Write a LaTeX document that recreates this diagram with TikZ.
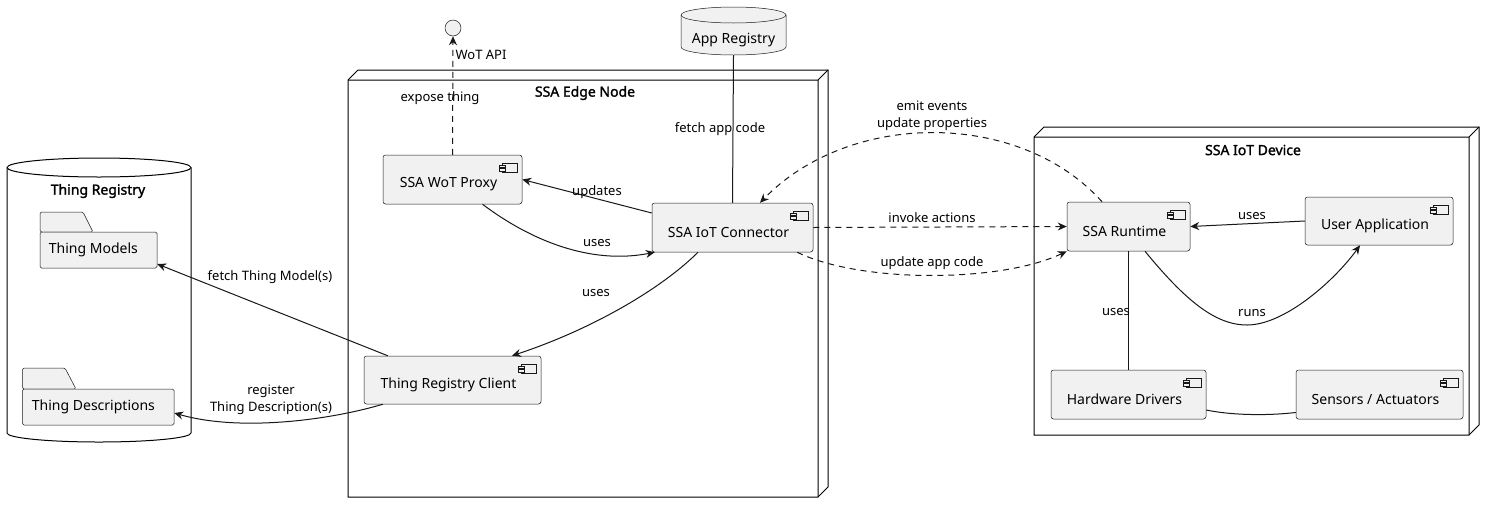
\documentclass[tikz,border=0pt]{standalone}
\usepackage{fontspec}
\setmainfont{Noto Sans}[AutoFakeBold=1.6]
\usetikzlibrary{arrows.meta,calc}
\definecolor{linec}{HTML}{181818}
\definecolor{compfill}{HTML}{F1F1F1}
\begin{document}
\begin{tikzpicture}[x=1pt,y=-1pt,
  wire/.style={draw=linec, line width=1pt},
  arr/.style={-{Stealth[length=9pt,width=8pt,inset=3pt]}},
  dsh/.style={dash pattern=on 6pt off 5pt},
  lbl/.style={font=\fontsize{13}{17}\selectfont, inner sep=0pt, align=center},
  ttl/.style={font=\fontsize{14}{17}\selectfont\bfseries, inner sep=0pt},
  cname/.style={font=\fontsize{14}{17}\selectfont, xshift=-4pt, yshift=-5pt, inner sep=0pt},
  fname/.style={font=\fontsize{14}{17}\selectfont, anchor=west, inner sep=0pt},
  comp/.style={draw=linec, line width=0.5pt, fill=compfill, rounded corners=2.5pt, inner sep=0pt,
    path picture={
      \begin{scope}[sharp corners, line width=0.5pt]
      \draw[draw=linec, fill=compfill] ([xshift=-20pt,yshift=-8pt]path picture bounding box.north east) rectangle ([xshift=-5pt,yshift=-17pt]path picture bounding box.north east);
      \draw[draw=linec, fill=compfill] ([xshift=-23pt,yshift=-10pt]path picture bounding box.north east) rectangle ([xshift=-17pt,yshift=-12.5pt]path picture bounding box.north east);
      \draw[draw=linec, fill=compfill] ([xshift=-23pt,yshift=-13.5pt]path picture bounding box.north east) rectangle ([xshift=-17pt,yshift=-16pt]path picture bounding box.north east);
      \end{scope}}},
  container/.style={draw=black, line width=1pt, fill=white, line join=miter},
  folder/.style={draw=linec, line width=0.5pt, fill=compfill},
  db/.style={draw=linec, line width=0.5pt, fill=compfill},
]
\useasboundingbox[fill=white] (0,0) rectangle (1495,512);

% ---------- Thing Registry (database container) ----------
\path[container] (7,167.5) -- (7,433) arc[start angle=180,end angle=360,x radius=92pt,y radius=9pt] -- (191,167.5) arc[start angle=0,end angle=180,x radius=92pt,y radius=9.5pt] -- cycle;
\draw[black, line width=1pt] (7,167.5) arc[start angle=180,end angle=360,x radius=92pt,y radius=9.5pt];
\node[ttl] (trttl) at (98,191) {Thing Registry};

% folders
\draw[folder, rounded corners=1.5pt] (40,232) -- (40,212) -- (83,212) -- (93,232) -- cycle;
\node[folder, rounded corners=1.5pt, minimum width=117pt, minimum height=36pt, inner sep=0pt,
      label={[fname, xshift=9pt]west:Thing Models}] (tm) at (98.5,250) {};
\draw[folder, rounded corners=1.5pt] (22.5,389) -- (22.5,368) -- (65,368) -- (76,389) -- cycle;
\node[folder, rounded corners=1.5pt, minimum width=151.5pt, minimum height=36pt, inner sep=0pt,
      label={[fname, xshift=9.5pt]west:Thing Descriptions}] (td) at (98.25,407) {};

% ---------- SSA Edge Node ----------
\path[container] (348,80) -- (358,70) -- (828,70) -- (828,487) -- (818,497) -- (348,497) -- cycle;
\draw[black, line width=1pt, line join=miter] (348,80) -- (818,80) -- (828,70) (818,80) -- (818,497);
\node[ttl] (edgettl) at (585,93) {SSA Edge Node};

% ---------- SSA IoT Device ----------
\path[container] (1034,137) -- (1044,127) -- (1479,127) -- (1479,425) -- (1469,435) -- (1034,435) -- cycle;
\draw[black, line width=1pt, line join=miter] (1034,137) -- (1469,137) -- (1479,127) (1469,137) -- (1469,435);
\node[ttl] (devttl) at (1253,150) {SSA IoT Device};

% ---------- App Registry (database) ----------
\path[db] (681,15) -- (681,47) arc[start angle=180,end angle=360,x radius=52.5pt,y radius=8pt] -- (786,15) arc[start angle=0,end angle=180,x radius=52.5pt,y radius=8pt] -- cycle;
\draw[linec, line width=0.5pt] (681,15) arc[start angle=180,end angle=360,x radius=52.5pt,y radius=8pt];
\node[inner sep=0pt, minimum width=105pt, minimum height=48pt,
      label={[font=\fontsize{14}{17}\selectfont, inner sep=0pt, yshift=-9pt]center:App Registry}] (appreg) at (733.5,31) {};

% ---------- WoT API interface ----------
\node[circle, draw=linec, line width=0.5pt, fill=compfill, minimum size=16pt, inner sep=0pt] (api) at (453,28) {};

% ---------- Components ----------
\node[comp, minimum width=139pt, minimum height=49pt, label={[cname]center:SSA WoT Proxy}] (proxy) at (452.5,179.5) {};
\node[comp, minimum width=161pt, minimum height=49pt, label={[cname]center:SSA IoT Connector}] (conn) at (732.5,227.5) {};
\node[comp, minimum width=177pt, minimum height=48pt, label={[cname]center:Thing Registry Client}] (trc) at (452.5,380) {};
\node[comp, minimum width=123pt, minimum height=49pt, label={[cname]center:SSA Runtime}] (runtime) at (1128.5,226.5) {};
\node[comp, minimum width=148pt, minimum height=48pt, label={[cname]center:User Application}] (userapp) at (1379,221) {};
\node[comp, minimum width=155pt, minimum height=49pt, label={[cname]center:Hardware Drivers}] (hw) at (1128.5,394.5) {};
\node[comp, minimum width=167pt, minimum height=49pt, label={[cname]center:Sensors / Actuators}] (sensors) at (1379.5,394.5) {};

% ---------- Connectors ----------
% expose thing
\draw[wire, dsh, arr] (proxy.north) -- (api.south);
\node[lbl] (lwot) at (481,55) {WoT API};
\node[lbl] (lexpose) at (440,98) {expose thing};

% fetch app code
\draw[wire] (appreg.south) -- (conn.north);
\node[lbl] (lfetch) at (720,129) {fetch app code};

% updates
\draw[wire, arr] ([yshift=14.5pt]conn.west) -- (proxy.east);
\node[lbl] (lupd) at (597,192) {updates};

% uses (proxy -> connector)
\draw[wire, arr] ([xshift=30pt]proxy.south) .. controls (530,240) and (590,265) .. ([xshift=3pt]conn.south west);
\node[lbl] (luses1) at (597,243) {uses};

% uses (connector -> client)
\draw[wire, arr] ([xshift=-34.5pt]conn.south) .. controls (660,290) and (590,330) .. ([xshift=59.5pt]trc.north);
\node[lbl] (luses2) at (596,293) {uses};

% fetch Thing Model(s)
\draw[wire, arr] ([xshift=24pt]trc.north west) -- ([yshift=-14pt]tm.east);
\node[lbl] (lftm) at (270,277) {fetch Thing Model(s)};

% register Thing Description(s)
\draw[wire, arr] ([xshift=19pt]trc.south west) .. controls (330,420) and (240,432) .. ([yshift=-6pt]td.east);
\node[lbl] (lreg) at (271,400) {register\\Thing Description(s)};

% emit events / update properties
\draw[wire, dsh, arr] ([xshift=-26.5pt]runtime.north) .. controls (1020,110) and (850,110) .. ([xshift=27.5pt]conn.north);
\node[lbl] (lemit) at (932,116) {emit events\\update properties};

% invoke actions
\draw[wire, dsh, arr] (conn.east) -- (runtime.west);
\node[lbl] (linv) at (932,218) {invoke actions};

% update app code
\draw[wire, dsh, arr] ([xshift=-16pt]conn.south east) .. controls (860,283) and (1000,283) .. (runtime.south west);
\node[lbl] (lupc) at (932,263) {update app code};

% uses (user app -> runtime)
\draw[wire, arr] (userapp.west) -- (runtime.east);
\node[lbl] (luses3) at (1252,216) {uses};

% runs
\draw[wire, arr] ([xshift=16.5pt]runtime.south) .. controls (1185,300) and (1215,325) .. (1247,325) .. controls (1285,325) and (1335,280) .. ([xshift=-19pt]userapp.south);
\node[lbl] (lruns) at (1252,313) {runs};

% uses (runtime -- hardware)
\draw[wire] (runtime.south) -- (hw.north);
\node[lbl] (luses4) at (1116,312) {uses};

% hardware -- sensors
\draw[wire] ([yshift=-15.5pt]hw.east) .. controls (1230,415) and (1265,416) .. ([yshift=-18pt]sensors.west);
\end{tikzpicture}
\end{document}
